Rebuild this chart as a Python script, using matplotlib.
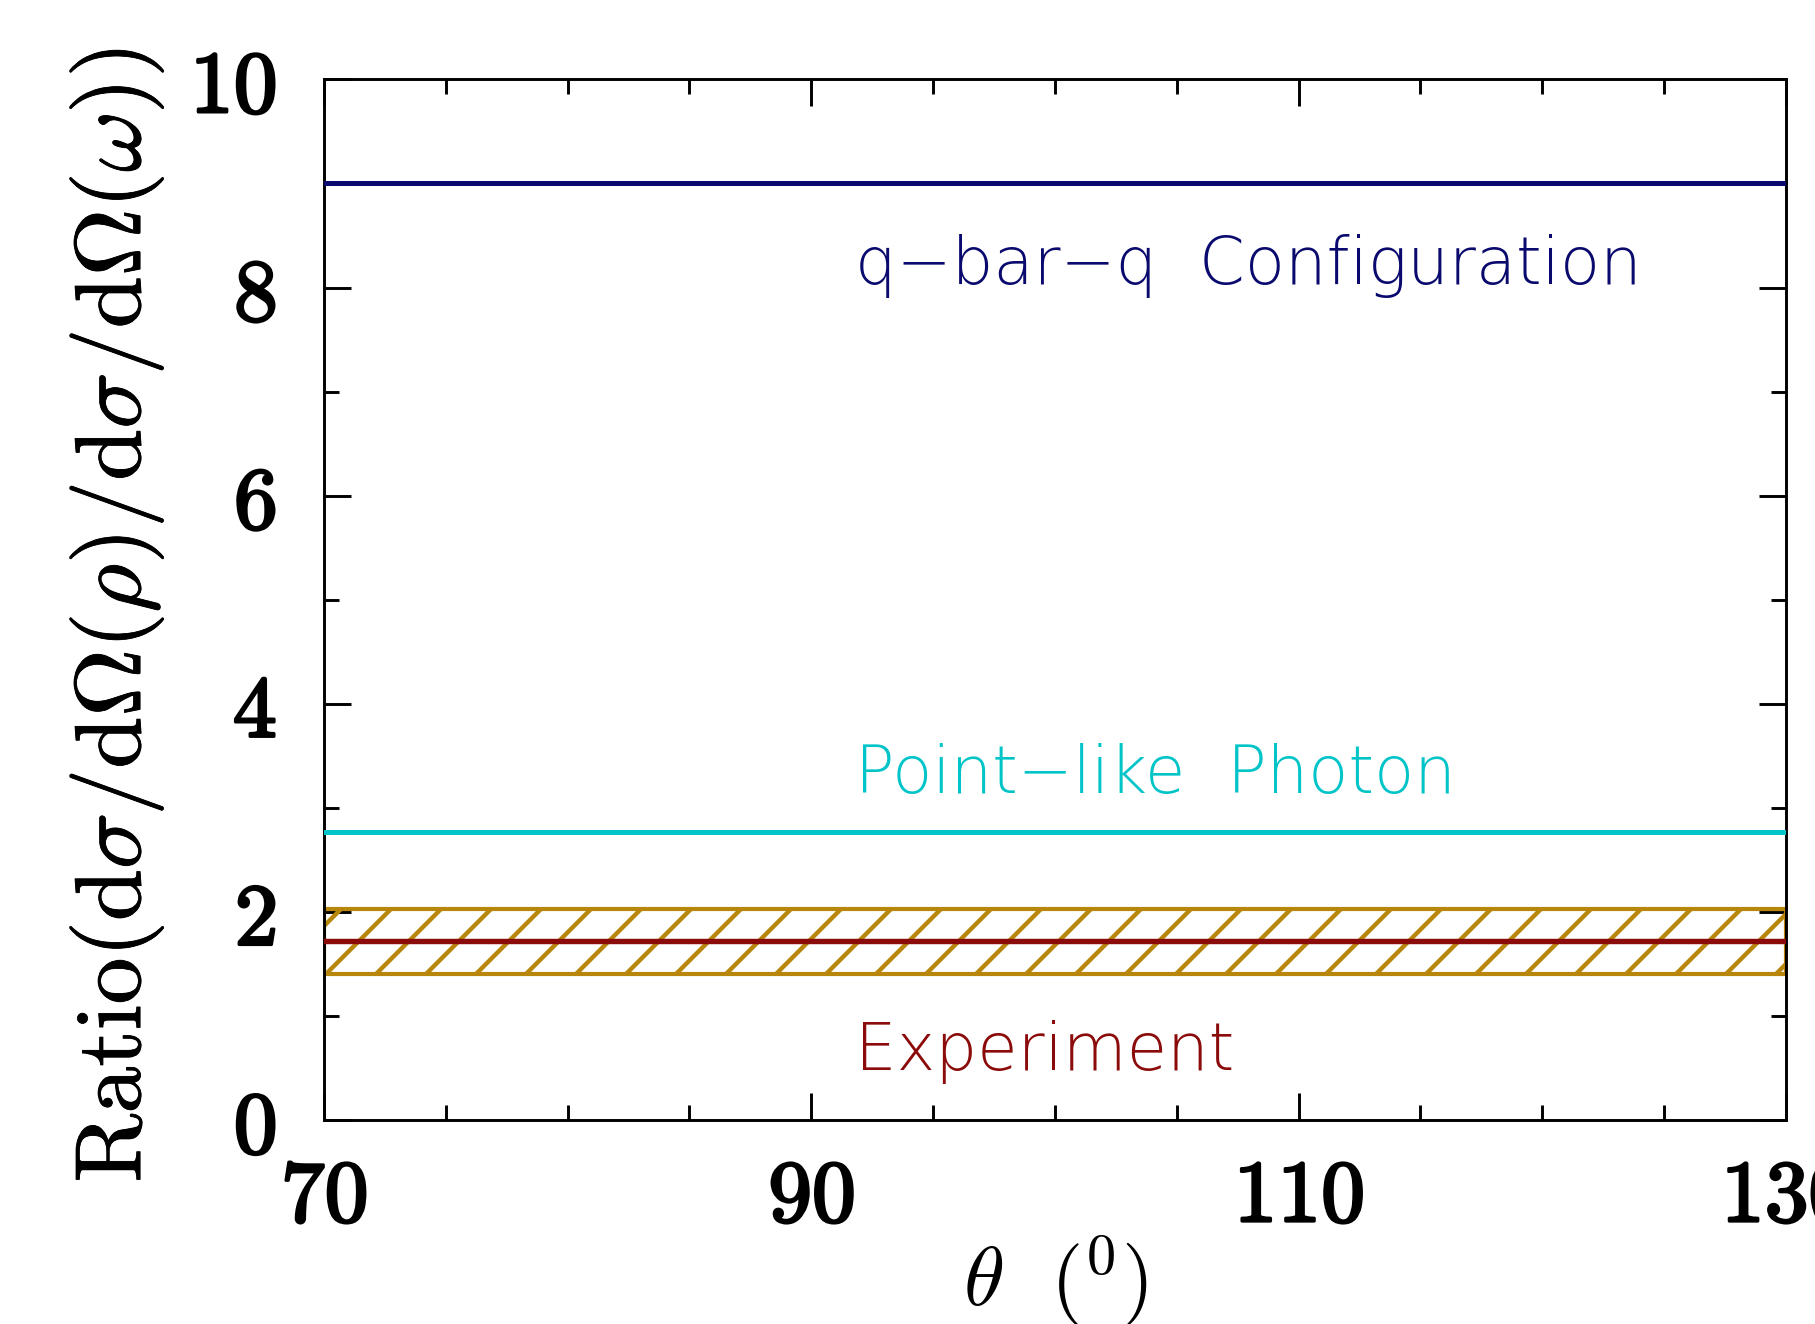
import numpy as np
import matplotlib.pyplot as plt
import matplotlib.patheffects as pe
from matplotlib.ticker import MultipleLocator

# datos
theta = [70, 130]
ratio_qbarq = [9.0, 9.0]
ratio_point = [2.77, 2.77]
ratio_exp = [1.72, 1.72]
exp_low = [1.40, 1.40]
exp_high = [2.03, 2.03]

labels = ['q\u2212bar\u2212q  Configuration', 'Point\u2212like  Photon', 'Experiment']
label_x = [91.8, 91.8, 91.8]
label_y = [8.03, 3.14, 0.48]
label_colors = ['#0a0a6e', '#00c4c8', '#8b0a0a']

xticks = [70, 90, 110, 130]
yticks = [0, 2, 4, 6, 8, 10]

plt.rcParams['mathtext.fontset'] = 'cm'
plt.rcParams['hatch.linewidth'] = 2.1
plt.rcParams['hatch.color'] = '#b8860b'

fig = plt.figure(figsize=(12.1, 8.827), dpi=150)
ax = fig.add_axes([0.1785, 0.154, 0.8055, 0.786])

# banda experimental con rayado
ax.fill_between(theta, exp_low, exp_high, facecolor='none', edgecolor='#b8860b',
                hatch='/', linewidth=2.0, zorder=2)
ax.plot(theta, ratio_exp, color='#8b0a0a', lw=2.6, zorder=3)
ax.plot(theta, ratio_point, color='#00c4c8', lw=2.4, zorder=3)
ax.plot(theta, ratio_qbarq, color='#0a0a6e', lw=2.4, zorder=3)

for t, x, y, c in zip(labels, label_x, label_y, label_colors):
    ax.text(x, y, t, color=c, fontsize=31.5, family='DejaVu Sans', fontweight='light',
            ha='left', va='baseline')

ax.set_xlim(70, 130)
ax.set_ylim(0, 10)
ax.xaxis.set_minor_locator(MultipleLocator(5))
ax.yaxis.set_minor_locator(MultipleLocator(1))
ax.tick_params(which='both', direction='in', top=True, right=True, width=1.4)
ax.tick_params(which='major', length=13)
ax.tick_params(which='minor', length=7)
ax.tick_params(axis='x', pad=17)
ax.tick_params(axis='y', pad=23)
ax.set_xticks(xticks)
ax.set_xticklabels([r'$%d$' % v for v in xticks], fontsize=42)
ax.set_yticks(yticks)
ax.set_yticklabels([r'$%d$' % v for v in yticks], fontsize=42)
bold = [pe.withStroke(linewidth=1.4, foreground='black')]
for lab in ax.get_xticklabels() + ax.get_yticklabels():
    lab.set_path_effects(bold)
for s in ax.spines.values():
    s.set_linewidth(1.4)

ax.set_xlabel(r'$\theta\ \ (^{0})$', fontsize=40, labelpad=-3)
ax.set_ylabel(r'$\mathrm{Ratio(d}\sigma\mathrm{/d}\Omega(\rho)\mathrm{/d}\sigma\mathrm{/d}\Omega(\omega))$',
              fontsize=45)
ax.yaxis.set_label_coords(-0.108, 0.485)
ax.yaxis.label.set_path_effects([pe.withStroke(linewidth=0.4, foreground='black')])

plt.savefig('out.png', dpi=150)
